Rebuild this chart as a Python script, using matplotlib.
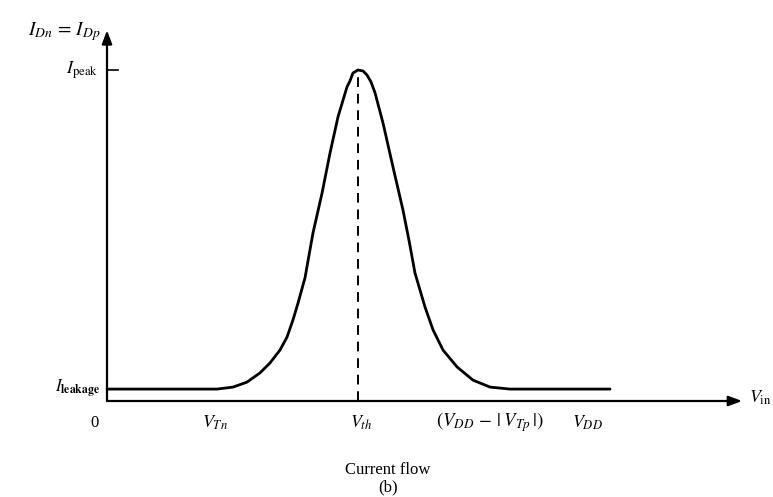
import matplotlib

matplotlib.use("Agg")

from matplotlib import pyplot as plt

plt.rcParams["mathtext.fontset"] = "stix"
plt.rcParams["font.family"] = ["Liberation Serif", "DejaVu Serif"]

# current vs input voltage (V_DD = 5, I_peak = 1)
v_in = [0.0, 1.146, 1.3125, 1.458, 1.594, 1.698, 1.802, 1.875, 1.9375, 1.990,
        2.0625, 2.104, 2.146, 2.240, 2.323, 2.406, 2.5, 2.531, 2.5625, 2.615,
        2.667, 2.708, 2.75, 2.792, 2.875, 2.979, 3.083, 3.146, 3.208, 3.3125,
        3.396, 3.5, 3.646, 3.8125, 3.990, 4.198, 5.24]
i_d = [0.036, 0.036, 0.042, 0.057, 0.085, 0.115, 0.154, 0.193, 0.245, 0.296,
       0.372, 0.44, 0.508, 0.628, 0.749, 0.858, 0.949, 0.967, 0.991, 1.0,
       0.997, 0.985, 0.964, 0.931, 0.840, 0.707, 0.577, 0.485, 0.387, 0.284,
       0.215, 0.154, 0.103, 0.063, 0.042, 0.036, 0.036]

v_tn = 1.125
v_th = 2.615
v_ddtp = 3.99
v_dd = 5.0
i_peak = 1.0
i_leak = 0.036

x_end = 6.615
y_end = 1.12

fig = plt.figure(figsize=(7.73, 4.97), dpi=100)
ax = fig.add_axes([107 / 773, 96 / 497, (760 - 107) / 773, (401 - 20) / 497])
ax.set_xlim(0, (760 - 107) / 96)
ax.set_ylim(0, (401 - 20) / 331)
ax.axis("off")

# axes with arrows
arrow = dict(arrowstyle="-|>,head_length=0.8,head_width=0.3", color="black", lw=1.6,
             shrinkA=0, shrinkB=0)
ax.annotate("", xy=(x_end, 0), xytext=(0, 0), arrowprops=arrow, annotation_clip=False)
ax.annotate("", xy=(0, y_end), xytext=(0, 0), arrowprops=arrow, annotation_clip=False)

ax.plot(v_in, i_d, color="black", lw=2.0, solid_capstyle="round",
        solid_joinstyle="round", clip_on=False)
ax.plot([v_th, v_th], [0, i_peak], color="black", lw=1.4, dashes=(5, 3.5))
ax.plot([0, 0.11], [i_peak, i_peak], color="black", lw=1.2)

ax.text(-0.07, y_end - 0.005, r"$I_{Dn}\,=\,I_{Dp}$", ha="right", va="center", fontsize=14)
ax.text(-0.09, i_peak, r"$I_{\rm peak}$", ha="right", va="center", fontsize=13)
ax.text(-0.07, i_leak, r"$I_{\mathbf{leakage}}$", ha="right", va="center", fontsize=12)

ly = -0.065
ax.text(-0.13, ly, "0", ha="center", va="center", fontsize=12)
ax.text(v_tn, ly, r"$V_{Tn}$", ha="center", va="center", fontsize=13)
ax.text(v_th + 0.03, ly, r"$V_{th}$", ha="center", va="center", fontsize=13)
ax.text(v_ddtp, ly, r"$(V_{DD}\,-\,|\;V_{Tp}\,|)$", ha="center", va="center", fontsize=13.5)
ax.text(v_dd, ly, r"$V_{DD}$", ha="center", va="center", fontsize=13)
ax.text(x_end + 0.07, 0.01, r"$V_{\rm in}$", ha="left", va="center", fontsize=13)

fig.text(388 / 773, 1 - 470 / 497, "Current flow", ha="center", va="center", fontsize=12)
fig.text(388 / 773, 1 - 487 / 497, "(b)", ha="center", va="center", fontsize=12)

fig.savefig("out.png", dpi=100)
